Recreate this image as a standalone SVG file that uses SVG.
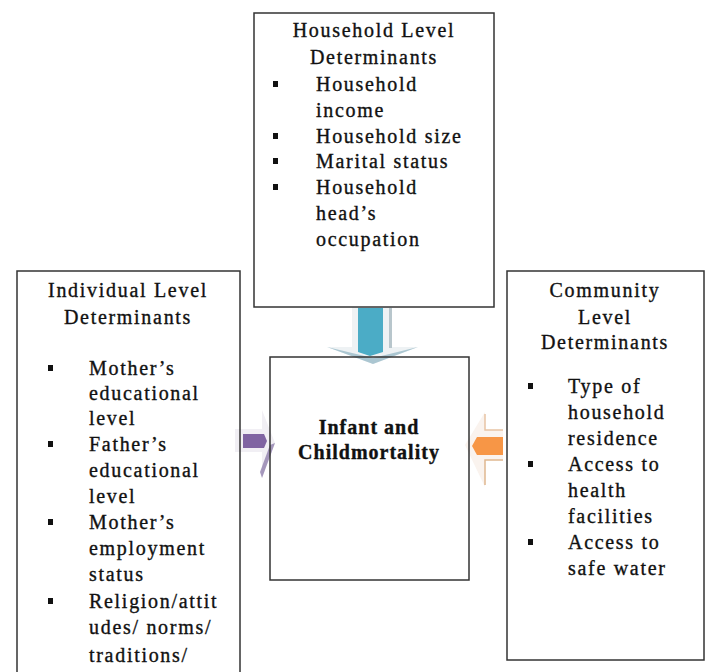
<svg xmlns="http://www.w3.org/2000/svg" width="708" height="672" viewBox="0 0 708 672">
<style>
.box{fill:none;stroke:#333;stroke-width:1.5}
.t{font-family:"Liberation Serif","Times New Roman",serif;font-size:20px;fill:#111;stroke:#111;stroke-width:0.35;letter-spacing:1.7px}
.c{text-anchor:middle}
.b{font-weight:bold;letter-spacing:1px}
.bul{fill:#111}
</style>
<rect width="708" height="672" fill="#fff"/>
<g id="connectors">
  <g id="arrow-down">
    <polygon points="352,307 392,307 392,347 418,347 373,364 327,347 352,347" fill="#eef2f4"/>
    <polygon points="327,347 373,364 418,347 373,358" fill="#8fb4c2" opacity="0.7"/>
    <rect x="389" y="308" width="3" height="40" fill="#b8c6cc"/>
    <polygon points="358,308 383,308 383,352 370,356 358,352" fill="#4bacc6"/>
  </g>
  <g id="arrow-left">
    <polygon points="235,429 262,429 262,410 275,443 262,478 262,452 235,452" fill="#f1eff4"/>
    <polygon points="262,478 275,443 270,445 260,472" fill="#8a78a8" opacity="0.75"/>
    <polygon points="243,434 264,434 267,441 264,448 243,448" fill="#8064a2"/>
  </g>
  <g id="arrow-right">
    <polygon points="503,430 485,430 485,412 465,445 485,487 485,460 503,460" fill="#faf3ee"/>
    <polyline points="485,414 485,430 503,430" fill="none" stroke="#e8c4a4" stroke-width="1.5"/>
    <polyline points="485,485 485,460 503,460" fill="none" stroke="#e0b890" stroke-width="1.5"/>
    <polygon points="477,437 503,437 503,455 477,455 472,446" fill="#f79646"/>
  </g>
</g>
<g id="household">
  <rect class="box" x="254" y="13" width="240" height="294"/>
  <text class="t c" x="374" y="37">Household Level</text>
  <text class="t c" x="374" y="64">Determinants</text>
  <rect class="bul" x="273" y="81" width="5" height="6"/>
  <rect class="bul" x="273" y="133" width="5" height="6"/>
  <rect class="bul" x="273" y="158" width="5" height="6"/>
  <rect class="bul" x="273" y="184" width="5" height="6"/>
  <text class="t" x="316" y="91">Household</text>
  <text class="t" x="316" y="117">income</text>
  <text class="t" x="316" y="143">Household size</text>
  <text class="t" x="316" y="168">Marital status</text>
  <text class="t" x="316" y="194">Household</text>
  <text class="t" x="316" y="220">head’s</text>
  <text class="t" x="316" y="246">occupation</text>
</g>
<g id="individual">
  <rect class="box" x="17" y="271" width="223" height="410"/>
  <text class="t c" x="128" y="297">Individual Level</text>
  <text class="t c" x="128" y="324">Determinants</text>
  <rect class="bul" x="48" y="365" width="5" height="6"/>
  <rect class="bul" x="48" y="441" width="5" height="6"/>
  <rect class="bul" x="48" y="519" width="5" height="6"/>
  <rect class="bul" x="48" y="598" width="5" height="6"/>
  <text class="t" x="89" y="375">Mother’s</text>
  <text class="t" x="89" y="400">educational</text>
  <text class="t" x="89" y="425">level</text>
  <text class="t" x="89" y="451">Father’s</text>
  <text class="t" x="89" y="477">educational</text>
  <text class="t" x="89" y="503">level</text>
  <text class="t" x="89" y="529">Mother’s</text>
  <text class="t" x="89" y="555">employment</text>
  <text class="t" x="89" y="581">status</text>
  <text class="t" x="89" y="608">Religion/attit</text>
  <text class="t" x="89" y="634">udes/ norms/</text>
  <text class="t" x="89" y="662">traditions/</text>
</g>
<g id="community">
  <rect class="box" x="507" y="271" width="197" height="389"/>
  <text class="t c" x="605" y="297">Community</text>
  <text class="t c" x="605" y="324">Level</text>
  <text class="t c" x="605" y="349">Determinants</text>
  <rect class="bul" x="528" y="383" width="5" height="6"/>
  <rect class="bul" x="528" y="461" width="5" height="6"/>
  <rect class="bul" x="528" y="539" width="5" height="6"/>
  <text class="t" x="568" y="393">Type of</text>
  <text class="t" x="568" y="419">household</text>
  <text class="t" x="568" y="445">residence</text>
  <text class="t" x="568" y="471">Access to</text>
  <text class="t" x="568" y="497">health</text>
  <text class="t" x="568" y="523">facilities</text>
  <text class="t" x="568" y="549">Access to</text>
  <text class="t" x="568" y="575">safe water</text>
</g>
<g id="outcome">
  <rect class="box" x="270" y="357" width="199" height="223"/>
  <text class="t c b" x="369" y="434">Infant and</text>
  <text class="t c b" x="369" y="459">Childmortality</text>
</g>
</svg>
